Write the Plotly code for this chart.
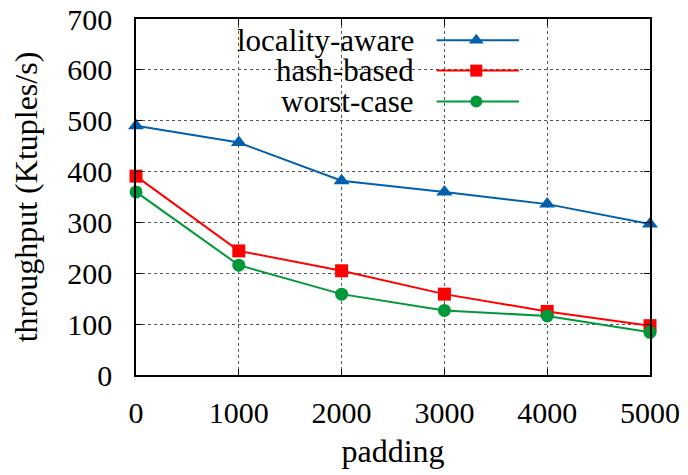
import plotly.graph_objects as go

padding = [0, 1000, 2000, 3000, 4000, 5000]
locality_aware = [490, 457, 382, 360, 336, 297]
hash_based = [391, 244, 205, 159, 125, 97]
worst_case = [360, 216, 159, 127, 116, 84]

series_names = ["locality-aware", "hash-based", "worst-case"]
series_values = [locality_aware, hash_based, worst_case]
colors = ["#0060ad", "#ff0000", "#00983a"]
symbols = ["triangle-up", "square", "circle"]
msizes = [14, 13, 13]

FONT = "Liberation Serif"
tick_font = dict(family=FONT, size=30, color="black")
label_font = dict(family=FONT, size=32, color="black")
legend_font = dict(family=FONT, size=31, color="black")

fig = go.Figure()
for name, vals, c, s, ms in zip(series_names, series_values, colors, symbols, msizes):
    fig.add_trace(go.Scatter(
        x=padding, y=vals, mode="lines+markers", name=name,
        line=dict(color=c, width=2),
        marker=dict(symbol=s, size=ms, color=c),
        showlegend=False, cliponaxis=False,
    ))

# manual gnuplot-style legend (text right, sample on right)
leg_y = [0.94, 0.855, 0.768]
for name, c, s, ms, ly in zip(series_names, colors, symbols, msizes, leg_y):
    fig.add_trace(go.Scatter(
        x=[0.585, 0.745], y=[ly, ly], xaxis="x2", yaxis="y2",
        mode="lines", line=dict(color=c, width=2), showlegend=False, hoverinfo="skip",
    ))
    fig.add_trace(go.Scatter(
        x=[0.662], y=[ly], xaxis="x2", yaxis="y2",
        mode="markers", marker=dict(symbol=s, size=ms - 1, color=c), showlegend=False, hoverinfo="skip",
    ))
    fig.add_annotation(
        x=0.545, y=ly, xref="x2", yref="y2", text=name, showarrow=False,
        xanchor="right", yanchor="middle", font=legend_font,
    )

axis_common = dict(
    ticks="inside", ticklen=6, tickcolor="black", mirror="allticks",
    showline=True, linecolor="black", linewidth=1.5,
    showgrid=True, gridcolor="#555555", griddash="dot", gridwidth=1,
    zeroline=False, tickfont=tick_font, automargin=False,
)

fig.update_layout(
    width=688, height=475,
    margin=dict(l=136, r=38, t=19, b=100),
    paper_bgcolor="white", plot_bgcolor="white",
    font=tick_font,
    xaxis=dict(
        range=[0, 5000], tickvals=[0, 1000, 2000, 3000, 4000, 5000],
        title=dict(text="padding", standoff=12, font=label_font),
        ticklabelstandoff=10, **axis_common,
    ),
    yaxis=dict(
        range=[0, 700], tickvals=[0, 100, 200, 300, 400, 500, 600, 700],
        title=dict(text="throughput (Ktuples/s)", standoff=20, font=label_font),
        ticklabelstandoff=16, **axis_common,
    ),
    xaxis2=dict(overlaying="x", range=[0, 1], visible=False, fixedrange=True),
    yaxis2=dict(overlaying="y", range=[0, 1], visible=False, fixedrange=True),
)

fig.write_html("out.html")
